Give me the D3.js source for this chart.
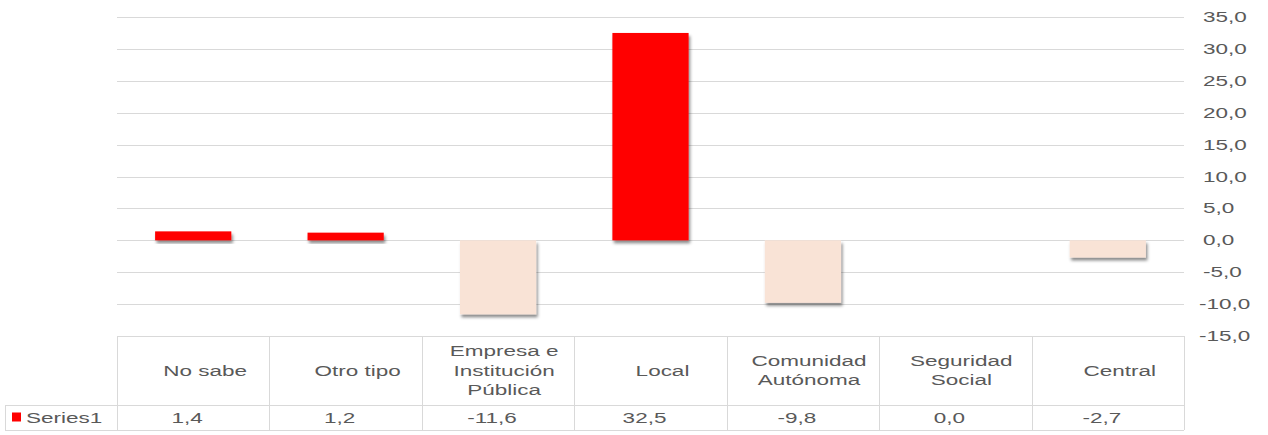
<!DOCTYPE html>
<html>
<head>
<meta charset="utf-8">
<script src="https://cdn.jsdelivr.net/npm/d3@7/dist/d3.min.js"></script>
<style>
  body { margin: 0; background: #fff; }
  text { font-family: "Liberation Sans", Arial, sans-serif; font-size: 15px; fill: #595959; }
</style>
</head>
<body>
<div id="chart"></div>
<script>
// categories (line-wrapped as in the data table header)
var categories = [
    ["No sabe"],
    ["Otro tipo"],
    ["Empresa e", "Institución", "Pública"],
    ["Local"],
    ["Comunidad", "Autónoma"],
    ["Seguridad", "Social"],
    ["Central"]
];
var seriesName = "Series1";
var values = [1.4, 1.2, -11.6, 32.5, -9.8, 0.0, -2.7];
var yTicks = [-15, -10, -5, 0, 5, 10, 15, 20, 25, 30, 35];

var W = 1268, H = 435;
var plot = { left: 117, right: 1184, top: 17, bottom: 336 };
var table = { top: 336, mid: 405, bottom: 430, labelLeft: 5 };
var stretch = 1.5; // the reference is horizontally stretched

var posColor = "#FF0000", negColor = "#F9E3D6", gridColor = "#D9D9D9";

var locale = d3.formatLocale({ decimal: ",", thousands: ".", grouping: [3], currency: ["", " €"], minus: "-" });
var fmt = locale.format(".1f");

var svg = d3.select("#chart").append("svg")
    .attr("width", W)
    .attr("height", H);

var defs = svg.append("defs");
var shadow = defs.append("filter").attr("id", "shadow")
    .attr("x", "-20%").attr("y", "-20%").attr("width", "140%").attr("height", "160%");
shadow.append("feDropShadow")
    .attr("dx", 1.5).attr("dy", 3).attr("stdDeviation", 1.8)
    .attr("flood-color", "#000").attr("flood-opacity", 0.45);

var y = d3.scaleLinear().domain([-15, 35]).range([plot.bottom, plot.top]);
var x = d3.scaleBand().domain(d3.range(values.length))
    .range([plot.left, plot.right]).paddingInner(0.5).paddingOuter(0.25);
var col = d3.scaleBand().domain(d3.range(values.length))
    .range([plot.left, plot.right]);

// gridlines
svg.append("g").selectAll("line")
    .data(yTicks)
    .enter().append("line")
    .attr("x1", plot.left)
    .attr("x2", plot.right)
    .attr("y1", function(d) { return Math.round(y(d)) + 0.5; })
    .attr("y2", function(d) { return Math.round(y(d)) + 0.5; })
    .style("stroke", gridColor)
    .style("stroke-width", 1);

// tick labels on the right
svg.append("g").selectAll("text")
    .data(yTicks)
    .enter().append("text")
    .attr("transform", function(d) {
        return "translate(" + (d <= -10 ? 1199 : 1203) + "," + (y(d) + 5) + ") scale(" + stretch + ",1)";
    })
    .attr("text-anchor", "start")
    .text(fmt);

// bars
svg.append("g").selectAll("rect")
    .data(values)
    .enter().append("rect")
    .attr("x", function(d, i) { return x(i); })
    .attr("width", x.bandwidth())
    .attr("y", function(d) { return y(Math.max(0, d)); })
    .attr("height", function(d) { return Math.abs(y(d) - y(0)); })
    .style("fill", function(d) { return d >= 0 ? posColor : negColor; })
    .attr("filter", function(d) { return d === 0 ? null : "url(#shadow)"; });

// data table
var tbl = svg.append("g").style("stroke", gridColor).style("stroke-width", 1);
var hl = function(y0, x0) {
    tbl.append("line").attr("x1", x0).attr("x2", plot.right)
        .attr("y1", y0 + 0.5).attr("y2", y0 + 0.5);
};
hl(table.top, plot.left);
hl(table.mid, table.labelLeft);
hl(table.bottom, table.labelLeft);
var vx = col.domain().map(function(i) { return col(i); }).concat([plot.right]);
vx.forEach(function(v) {
    tbl.append("line").attr("x1", Math.round(v) + 0.5).attr("x2", Math.round(v) + 0.5)
        .attr("y1", table.top).attr("y2", table.bottom);
});
tbl.append("line").attr("x1", table.labelLeft + 0.5).attr("x2", table.labelLeft + 0.5)
    .attr("y1", table.mid).attr("y2", table.bottom);

// header labels
var headerMid = (table.top + table.mid) / 2 + 5;
var lineH = 19.5;
var heads = svg.append("g").selectAll("g")
    .data(categories)
    .enter().append("g")
    .attr("transform", function(d, i) {
        return "translate(" + (col(i) + col.bandwidth() / 2 + (d.length === 1 ? 12 : 6)) + ",0)";
    });
heads.selectAll("text")
    .data(function(d) { return d.map(function(t, j) { return { t: t, j: j, n: d.length }; }); })
    .enter().append("text")
    .attr("transform", function(d) {
        var cy = headerMid + (d.j - (d.n - 1) / 2) * lineH;
        return "translate(0," + cy + ") scale(" + stretch + ",1)";
    })
    .attr("text-anchor", "middle")
    .text(function(d) { return d.t; });

// value row
var rowMid = (table.mid + table.bottom) / 2 + 5;
svg.append("g").selectAll("text")
    .data(values)
    .enter().append("text")
    .attr("transform", function(d, i) {
        return "translate(" + (col(i) + col.bandwidth() / 2 - 6) + "," + rowMid + ") scale(" + stretch + ",1)";
    })
    .attr("text-anchor", "middle")
    .text(fmt);

// legend key in the row header
svg.append("rect")
    .attr("x", 12).attr("y", rowMid - 10)
    .attr("width", 9).attr("height", 9)
    .style("fill", posColor);
svg.append("text")
    .attr("transform", "translate(26," + rowMid + ") scale(" + stretch + ",1)")
    .text(seriesName);
</script>
</body>
</html>
